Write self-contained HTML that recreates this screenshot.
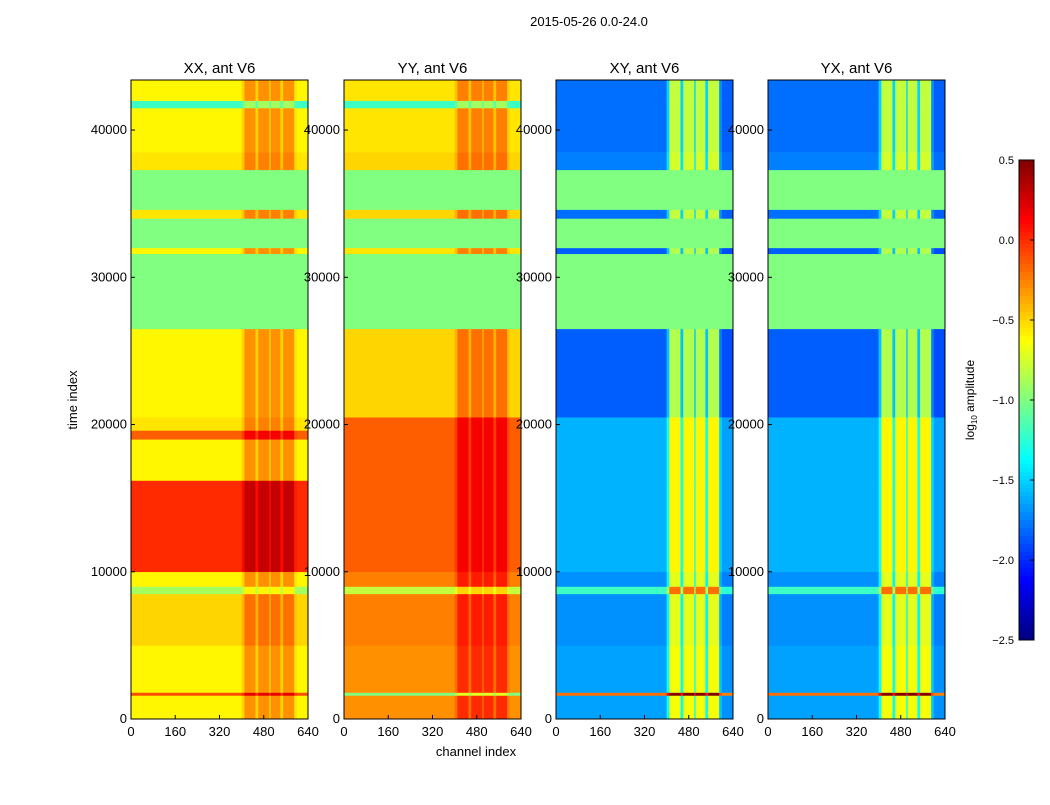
<!DOCTYPE html>
<html><head><meta charset="utf-8">
<style>
body{margin:0;background:#fff;font-family:"Liberation Sans",sans-serif;}
svg text{font-family:"Liberation Sans",sans-serif;}
</style></head>
<body>
<svg id="fig" width="1050" height="800" xmlns="http://www.w3.org/2000/svg">
<rect width="1050" height="800" fill="#fff"/>
<text x="589" y="26" font-size="13" text-anchor="middle">2015-05-26 0.0-24.0</text>
<text x="476" y="756" font-size="13" text-anchor="middle">channel index</text>
<text transform="translate(77,400) rotate(-90)" font-size="13" text-anchor="middle">time index</text>
<g id="panels"></g>
<g id="cbar"></g>
</svg>
<script>
const panelNames=["XX, ant V6","YY, ant V6","XY, ant V6","YX, ant V6"];
const timeEdges=[0,1600,1800,5000,8500,9000,10000,16200,19000,19600,20500,26500,31600,32000,33000,34000,34600,37300,38500,41500,42000,43400];
const chanEdges=[0,400,410,450,460,500,505,540,550,590,600,640];
const xxVals=[-0.6,-0.1,-0.6,-0.5,-0.9,-0.6,0.0,-0.6,-0.15,-0.55,-0.6,null,-0.6,null,null,-0.55,null,-0.55,-0.6,-1.2,-0.6];
const yyVals=[-0.3,-1.0,-0.3,-0.25,-0.8,-0.25,-0.15,-0.15,-0.15,-0.15,-0.5,null,-0.55,null,null,-0.5,null,-0.5,-0.55,-1.2,-0.55];
const xyVals=[-1.65,-0.2,-1.65,-1.7,-1.2,-1.7,-1.6,-1.6,-1.6,-1.6,-1.85,null,-1.85,null,null,-1.8,null,-1.75,-1.8,-1.8,-1.8];
const yxVals=[-1.65,-0.2,-1.65,-1.7,-1.2,-1.7,-1.6,-1.6,-1.6,-1.6,-1.85,null,-1.85,null,null,-1.8,null,-1.75,-1.8,-1.8,-1.8];
const ampColOffsets=[0,0.1,0.3,0.1,0.3,0.1,0.3,0.1,0.3,0.05,0];
const crossColOffsets=[0,0.3,1.0,0.3,1.0,0.3,1.0,0.3,1.0,0.1,-0.05];
const xTicks=[0,160,320,480,640];
const yTicks=[0,10000,20000,30000,40000];
const cbTicks=[0.5,0.0,-0.5,-1.0,-1.5,-2.0,-2.5];

const panelVals=[xxVals,yyVals,xyVals,yxVals];
const panelOffs=[ampColOffsets,ampColOffsets,crossColOffsets,crossColOffsets];
const panelX=[131,344,556,768];
const PW=177, TOP=80, BOT=719, TMAX=43400, VMIN=-2.5, VMAX=0.5;
const NS="http://www.w3.org/2000/svg";
function jet(t){t=Math.max(0,Math.min(1,t));
 const r=Math.max(0,Math.min(1,1.5-Math.abs(4*t-3))),g=Math.max(0,Math.min(1,1.5-Math.abs(4*t-2))),b=Math.max(0,Math.min(1,1.5-Math.abs(4*t-1)));
 return `rgb(${Math.round(r*255)},${Math.round(g*255)},${Math.round(b*255)})`;}
function col(v){return v===null?"#80ff80":jet((v-VMIN)/(VMAX-VMIN));}
function yS(t){return BOT-(t/TMAX)*(BOT-TOP);}
function mk(tag,attrs,parent){const e=document.createElementNS(NS,tag);for(const k in attrs)e.setAttribute(k,attrs[k]);parent.appendChild(e);return e;}
const P=document.getElementById("panels");
panelNames.forEach((nm,p)=>{
 const x0=panelX[p]; const xS=c=>x0+c/640*PW;
 const g=mk("g",{},P);
 
 
 const vals=panelVals[p],offs=panelOffs[p];
 for(let i=0;i<vals.length;i++){
  for(let j=0;j<chanEdges.length-1;j++){
   let v=vals[i]; if(v!==null) v=Math.max(VMIN,Math.min(VMAX,v+offs[j]));
   const y1=yS(timeEdges[i+1]),y0=yS(timeEdges[i]);
   const r=mk("rect",{x:xS(chanEdges[j]),y:y1,width:xS(chanEdges[j+1])-xS(chanEdges[j])+0.3,height:y0-y1+0.3,fill:col(v)},g);
   
   
  }
 }
 mk("rect",{x:x0,y:TOP,width:PW,height:BOT-TOP,fill:"none",stroke:"#000","stroke-width":1},g);
 const t=mk("text",{x:x0+PW/2,y:73,"font-size":15,"text-anchor":"middle"},g);t.textContent=nm;
 
 
 xTicks.forEach(v=>{const x=xS(v);mk("line",{x1:x,x2:x,y1:BOT,y2:BOT-4,stroke:"#000"},g);
  const l=mk("text",{x:x,y:BOT+17,"font-size":13,"text-anchor":"middle"},g);l.textContent=v;
  
  });
 yTicks.forEach(v=>{const y=yS(v);mk("line",{x1:x0,x2:x0+4,y1:y,y2:y,stroke:"#000"},g);
  const l=mk("text",{x:x0-4,y:y+4,"font-size":13,"text-anchor":"end"},g);l.textContent=v;
  
  });
});
const C=document.getElementById("cbar");
const CX=1019,CW=15,CT=160,CB=640;
for(let k=0;k<120;k++){const y=CT+k*(CB-CT)/120;
 const r=mk("rect",{x:CX,y:y,width:CW,height:(CB-CT)/120+0.5,fill:jet(1-(k+0.5)/120)},C);
 
 }
mk("rect",{x:CX,y:CT,width:CW,height:CB-CT,fill:"none",stroke:"#000"},C);
cbTicks.forEach(v=>{const y=CB-(v-VMIN)/(VMAX-VMIN)*(CB-CT);
 mk("line",{x1:CX+CW-4,x2:CX+CW,y1:y,y2:y,stroke:"#000"},C);
 const l=mk("text",{x:1014,y:y+4,"font-size":11,"text-anchor":"end"},C);l.textContent=(v<0?"\u2212":"")+Math.abs(v).toFixed(1);
 
 });
const cl=mk("text",{transform:"translate(974,400) rotate(-90)","font-size":12,"text-anchor":"middle"},C);
cl.innerHTML='log<tspan font-size="8" dy="3">10</tspan><tspan dy="-3"> amplitude</tspan>';


</script>
</body></html>
